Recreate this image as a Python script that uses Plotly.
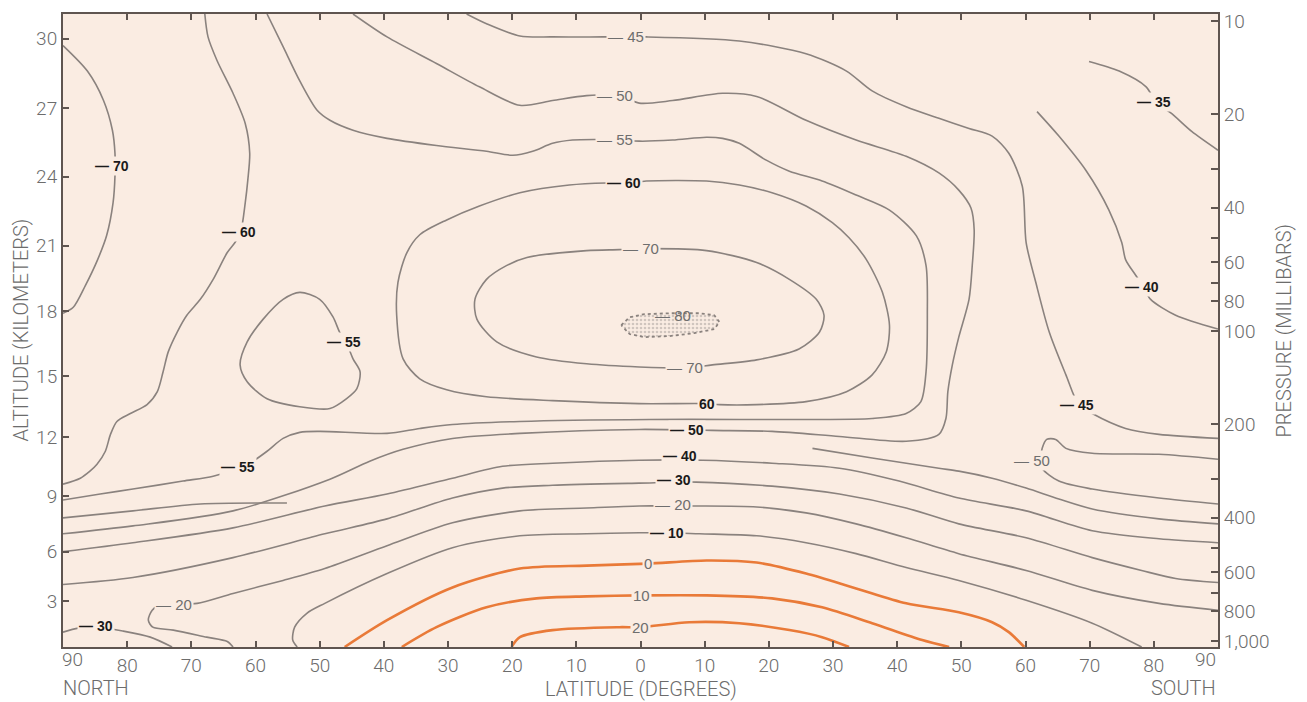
import math
import plotly.graph_objects as go

# ---------------- axis data ----------------
LAT_TICKS = [-80, -70, -60, -50, -40, -30, -20, -10, 0, 10, 20, 30, 40, 50, 60, 70, 80]
ALT_KM = [3, 6, 9, 12, 15, 18, 21, 24, 27, 30]
ALT_MB = [744, 514, 340, 220, 140, 86.2, 53.0, 31.8, 19.1, 11.4]
P_TICKS = [10, 20, 30, 40, 50, 60, 70, 80, 100, 200, 300, 400, 500, 600, 700, 800, 1000]
P_LABELS = ["10", "20", "", "40", "", "60", "", "80", "100", "200", "", "400", "", "600", "", "800", "1,000"]
P_RANGE = [1044.5, 9.49]

# ---------------- isotherms (latitude: north negative, pressure mb) ----------------
M70_NW_LAT = [-90.0, -86.2, -83.7, -82.3, -81.9, -81.9, -82.2, -83.2, -84.6, -86.5, -88.4, -90.0]
M70_NW_P = [12.0, 14.5, 18.0, 22.5, 26.7, 31.6, 38.6, 49.2, 58.8, 71.2, 83.8, 87.6]

M60_NW_LAT = [-67.9, -67.4, -66.0, -63.5, -61.6, -60.9, -61.2, -61.6, -62.3, -63.2, -64.4, -66.6, -68.6,
              -70.7, -72.2, -73.6, -74.4, -75.3, -76.9, -79.5, -81.6, -82.6, -83.4, -84.7, -85.8, -87.3, -90.0]
M60_NW_P = [9.49, 11.25, 13.4, 17.1, 21.4, 26.7, 32.6, 38.6, 47.8, 51.8, 55.8, 68.1, 79.0,
            88.9, 100.7, 116.7, 135.3, 156.8, 172.7, 184.5, 195.6, 215.4, 244.1, 268.8, 282.9, 298.1, 311.6]

M55_LAT = [-58.2, -55.7, -53.1, -50.4, -48.4, -44.8, -39.5, -31.8, -24.0, -19.9,
           -16.8, -13.7, -10.6, -6.4, -3.6, -0.2, 5.0, 10.3, 12.8, 15.4,
           19.6, 23.2, 28.3, 33.6, 38.8, 43.0, 44.5, 44.7, 44.5, 43.7,
           41.4, 36.1, 25.8, 15.4, 1.4, -18.8, -29.3, -34.4, -39.5, -50.0,
           -53.1, -55.7, -58.2, -60.4, -62.4, -66.6, -71.3, -79.1, -84.2, -90.0]
M55_P = [9.49, 12.1, 15.6, 19.4, 20.9, 22.5, 23.9, 25.2, 26.3, 27.1,
         26.3, 24.8, 24.2, 24.1, 24.1, 24.4, 24.2, 23.7, 23.9, 24.8,
         28.1, 30.5, 32.8, 36.4, 40.7, 49.3, 61.5, 88.9, 135.3, 168.8,
         184.5, 191.4, 192.8, 192.8, 192.8, 195.6, 200.1, 206.1, 213.8, 210.6,
         212.2, 221.9, 244.1, 262.8, 274.9, 293.8, 304.6, 323.2, 335.4, 350.5]

M50_LAT = [-44.8, -39.5, -31.8, -25.1, -18.8, -13.7, -8.4, -3.3, -0.2, 5.0,
           12.8, 18.1, 25.8, 33.6, 41.4, 46.5, 49.6, 51.5, 52.0, 51.7,
           51.2, 49.6, 48.6, 47.9, 47.6, 46.5, 41.4, 31.0, 20.5, 11.1,
           -0.2, -18.8, -29.3, -37.0, -42.2, -48.4, -63.5, -79.1, -90.0]
M50_P = [9.49, 11.25, 13.7, 16.3, 18.7, 18.05, 17.4, 17.4, 18.4, 18.05,
         17.1, 17.5, 20.9, 24.2, 27.3, 30.9, 35.1, 40.1, 47.1, 61.5,
         79.0, 104.6, 128.5, 156.8, 191.4, 215.4, 226.7, 218.7, 210.6, 209.1,
         207.6, 213.8, 221.9, 240.6, 262.8, 300.3, 380.0, 424.8, 450.6]

M45_LAT = [-27.1, -24.0, -18.8, -13.7, -5.9, -2.0, 0.9, 15.4, 25.8, 32.1, 36.1, 41.4, 46.5,
           51.2, 54.8, 57.4, 59.5, 60.1, 61.6, 63.7, 66.3, 68.3, 70.4, 75.6, 80.8, 90.0]
M45_P = [9.49, 10.2, 11.17, 11.25, 11.25, 11.25, 11.25, 11.6, 12.75, 14.5, 16.8, 18.9, 20.6,
         22.2, 23.5, 26.7, 34.1, 51.8, 69.6, 100.7, 138.4, 172.7, 184.5, 206.1, 215.4, 221.9]

M40_SE_LAT = [61.8, 65.2, 69.4, 73.0, 75.0, 75.6, 77.2, 78.4, 79.5, 83.4, 90.0]
M40_SE_P = [19.6, 23.5, 30.3, 40.7, 51.8, 58.8, 66.2, 72.3, 79.0, 88.9, 98.5]

M35_LAT = [69.9, 74.6, 78.8, 80.3, 82.8, 85.9, 90.0]
M35_P = [13.5, 14.5, 16.3, 18.2, 19.9, 22.7, 26.1]

M70_LOOP_LAT = [0.6, 10.3, 18.1, 23.2, 27.4, 28.6, 27.9, 24.7, 18.1, 11.2, 7.3, -0.2, -8.4,
                -16.2, -22.4, -25.5, -25.8, -24.0, -20.9, -17.7, -8.4, -3.3, 0.6]
M70_LOOP_P = [54.2, 55.0, 60.1, 68.1, 79.0, 88.9, 100.7, 114.2, 123.8, 128.5, 131.4, 130.5, 127.5,
              121.2, 108.4, 91.5, 79.0, 68.1, 61.5, 57.9, 55.0, 54.6, 54.2]

M60_LOOP_LAT = [-2.0, 0.9, 10.3, 15.4, 20.5, 25.8, 29.9, 32.5, 35.2, 37.7, 38.8, 38.3, 36.1, 32.1,
                25.8, 18.1, 12.3, 10.3, -0.2, -13.7, -24.0, -30.2, -34.4, -37.0, -38.0, -37.8,
                -36.4, -34.4, -30.2, -25.1, -18.8, -11.1, -5.3, -2.0]
M60_LOOP_P = [33.3, 32.8, 32.8, 33.8, 35.8, 39.5, 44.7, 50.0, 58.8, 75.0, 95.7, 116.7, 138.4, 156.8,
              168.8, 172.7, 172.7, 171.4, 171.4, 167.6, 162.8, 154.6, 142.5, 122.9, 88.9, 69.6,
              55.8, 48.9, 43.8, 39.5, 35.8, 33.8, 33.3, 33.3]

M80_LAT = [-3.0, -1.7, 0.6, 4.5, 9.2, 11.5, 12.3, 11.5, 8.4, 4.5, 0.6, -1.7, -3.0]
M80_P = [95.7, 90.2, 88.2, 87.6, 87.6, 88.9, 93.5, 98.5, 101.5, 103.8, 104.6, 102.2, 95.7]

M50_SE_LAT = [90.0, 80.8, 70.4, 66.3, 64.7, 63.3, 62.6, 62.4, 62.6, 65.2, 70.4, 80.8, 90.0]
M50_SE_P = [259.1, 249.7, 247.8, 238.9, 223.5, 223.5, 238.9, 256.6, 276.9, 304.6, 323.2, 345.5, 361.1]

M55_LOOP_LAT = [-53.1, -50.0, -47.9, -46.9, -45.9, -44.8, -43.7, -44.2, -45.8, -48.4, -53.1,
                -58.2, -61.3, -62.4, -61.3, -58.8, -55.7, -53.1]
M55_LOOP_P = [75.0, 79.0, 90.2, 100.7, 108.4, 122.9, 135.3, 153.4, 165.2, 177.8, 175.3,
              165.2, 145.6, 128.5, 108.4, 91.5, 79.0, 75.0]

M50_W_LAT = [-90.0, -79.1, -68.6, -55.1]
M50_W_P = [400.4, 380.0, 361.1, 358.4]

M45_E_LAT = [26.8, 36.1, 46.5, 49.6, 54.8, 60.1, 65.2, 70.4, 80.8, 90.0]
M45_E_P = [238.9, 256.6, 276.9, 282.9, 298.1, 320.9, 347.9, 374.6, 403.3, 418.5]

M40_LAT = [-90.0, -79.1, -63.5, -49.2, -39.5, -29.3, -21.5, -13.7, -0.2, 9.7, 20.5, 31.0, 40.3,
           49.6, 60.1, 70.4, 80.8, 90.0]
M40_P = [514.4, 481.5, 431.1, 366.5, 335.4, 298.1, 272.9, 266.8, 260.9, 260.9, 266.8, 276.9, 304.6,
         345.5, 380.0, 440.5, 467.5, 481.5]

M30_LAT = [-90.0, -79.1, -63.5, -49.2, -39.5, -29.3, -21.5, -13.7, -0.2, 8.7, 20.5, 31.0, 41.4,
           49.6, 60.1, 70.4, 78.1, 83.4, 90.0]
M30_P = [656.5, 623.4, 537.9, 450.6, 403.3, 345.5, 320.9, 314.3, 309.3, 306.9, 316.3, 335.4, 371.9,
         418.5, 464.1, 537.9, 591.7, 627.9, 646.8]

M30_SW_LAT = [-90.0, -87.6, -84.5, -80.6, -76.4, -73.0]
M30_SW_P = [935.3, 908.1, 901.6, 928.3, 970.7, 1044.5]

M20_LAT = [-63.5, -64.4, -67.6, -72.8, -76.0, -76.7, -76.1, -74.9, -72.4, -69.1, -63.5, -55.7,
           -49.2, -39.5, -29.3, -18.8, -8.4, -0.2, 5.3, 8.7, 18.1, 25.8, 33.6, 41.4, 49.6, 60.1,
           70.4, 80.8, 90.0]
M20_P = [1044.5, 1002.4, 970.7, 921.2, 901.6, 855.7, 794.8, 766.6, 760.9, 755.3, 701.6, 637.0,
         583.3, 492.4, 415.4, 380.0, 371.9, 366.5, 366.5, 366.5, 369.2, 385.8, 418.5, 464.1, 522.2,
         591.7, 685.8, 755.3, 794.8]

M10_LAT = [-53.5, -54.2, -53.9, -52.0, -49.2, -39.5, -29.3, -18.8, -8.4, -0.2, 4.5, 9.2, 18.1,
           25.8, 33.6, 41.4, 49.6, 60.1, 70.4, 78.1]
M10_P = [1044.5, 991.9, 901.6, 813.1, 755.3, 605.3, 499.6, 457.4, 450.6, 447.2, 447.2, 450.6, 457.4,
         481.5, 522.2, 579.1, 637.0, 738.3, 875.4, 1044.5]

P0_LAT = [-46.1, -39.5, -29.3, -18.8, -8.4, 1.1, 10.3, 18.1, 25.8, 33.6, 41.4, 49.6, 54.8, 57.4, 59.8]
P0_P = [1044.5, 855.7, 671.2, 583.3, 570.7, 562.2, 549.6, 558.0, 605.3, 676.0, 755.3, 807.0, 868.8,
        935.3, 1044.5]

P10_LAT = [-37.2, -31.8, -24.0, -16.2, -8.4, 0.0, 10.3, 20.5, 28.3, 36.1, 43.9, 48.1]
P10_P = [1044.5, 901.6, 777.9, 727.8, 717.3, 712.1, 712.1, 727.8, 777.9, 875.4, 991.9, 1044.5]

P20_LAT = [-20.1, -18.8, -13.7, -3.3, 0.0, 7.6, 15.4, 23.2, 28.3, 32.5]
P20_P = [1044.5, 970.7, 921.2, 901.6, 901.6, 868.8, 875.4, 921.2, 970.7, 1044.5]

# ---------------- contour labels ----------------
LABEL_TEXT = ["— 70", "— 60", "— 55", "— 55", "— 45", "— 50", "— 55", "— 60", "— 70", "— 80",
              "— 70", "60", "— 50", "— 40", "— 30", "— 20", "— 10", "0", "10", "20",
              "— 20", "— 30", "— 35", "— 40", "— 45", "— 50"]
LABEL_LAT = [-82.3, -62.6, -46.2, -62.7, -2.3, -3.9, -3.9, -2.5, 0.0, 5.0,
             7.0, 10.3, 7.3, 6.2, 5.2, 5.0, 4.2, 1.1, 0.2, 0.0,
             -72.7, -84.8, 80.0, 78.1, 68.0, 61.0]
LABEL_P = [29.4, 47.8, 108.4, 274.9, 11.25, 17.4, 24.1, 33.3, 54.2, 88.9,
           131.4, 171.4, 209.1, 253.5, 302.4, 363.8, 447.2, 562.2, 712.1, 901.6,
           760.9, 895.0, 18.2, 72.3, 172.7, 260.9]
LABEL_DARK = [True, True, True, True, False, False, False, True, False, False,
              False, True, True, True, True, False, True, False, False, False,
              False, True, True, True, True, False]

# ---------------- styles ----------------
BG = "rgb(250,236,226)"
GRAY = "rgb(138,130,126)"
ORANGE = "rgb(233,122,56)"
FRAME = "rgb(95,85,80)"
TXT = "#6c6c6c"
TICK_FONT = dict(family="Roboto, 'Liberation Sans', sans-serif", size=19, color=TXT, weight=300)
TITLE_FONT = dict(family="Roboto, 'Liberation Sans', sans-serif", size=20, color=TXT, weight=300)

gray_lines = [
    (M70_NW_LAT, M70_NW_P), (M60_NW_LAT, M60_NW_P), (M55_LAT, M55_P), (M50_LAT, M50_P),
    (M45_LAT, M45_P), (M40_SE_LAT, M40_SE_P), (M35_LAT, M35_P), (M70_LOOP_LAT, M70_LOOP_P),
    (M60_LOOP_LAT, M60_LOOP_P), (M50_SE_LAT, M50_SE_P), (M55_LOOP_LAT, M55_LOOP_P),
    (M50_W_LAT, M50_W_P), (M45_E_LAT, M45_E_P), (M40_LAT, M40_P), (M30_LAT, M30_P),
    (M30_SW_LAT, M30_SW_P), (M20_LAT, M20_P), (M10_LAT, M10_P),
]
orange_lines = [(P0_LAT, P0_P), (P10_LAT, P10_P), (P20_LAT, P20_P)]

fig = go.Figure()

fig.add_trace(go.Scatter(
    x=M80_LAT, y=M80_P, mode="lines", fill="toself",
    fillpattern=dict(shape=".", fgcolor="rgb(165,158,154)", bgcolor=BG, size=4, solidity=0.35),
    line=dict(color=GRAY, width=1.8, dash="dot"), hoverinfo="skip", showlegend=False))

for lat, p in gray_lines:
    fig.add_trace(go.Scatter(x=lat, y=p, mode="lines",
                             line=dict(color=GRAY, width=1.6, shape="spline", smoothing=0.8),
                             hoverinfo="skip", showlegend=False))
for lat, p in orange_lines:
    fig.add_trace(go.Scatter(x=lat, y=p, mode="lines",
                             line=dict(color=ORANGE, width=2.6, shape="spline", smoothing=0.8),
                             hoverinfo="skip", showlegend=False))

# dummy trace so the right pressure axis is drawn
fig.add_trace(go.Scatter(x=[0], y=[100], yaxis="y2", mode="markers",
                         marker=dict(opacity=0), hoverinfo="skip", showlegend=False))

annotations = []
for txt, la, pr, dark in zip(LABEL_TEXT, LABEL_LAT, LABEL_P, LABEL_DARK):
    annotations.append(dict(
        x=la, y=math.log10(pr), xref="x", yref="y", text=txt, showarrow=False,
        font=dict(family="'Liberation Sans', Arial, sans-serif",
                  size=14 if dark else 15,
                  color="#1a1a1a" if dark else "#6e6e6e",
                  weight="bold" if dark else "normal"),
        bgcolor=None if txt == "— 80" else BG, borderpad=1))

# end tick labels and titles
annotations += [
    dict(x=0, y=-0.0204, xref="paper", yref="paper", text="90", showarrow=False,
         xanchor="left", yanchor="middle", xshift=-3, font=TICK_FONT),
    dict(x=1, y=-0.0204, xref="paper", yref="paper", text="90", showarrow=False,
         xanchor="right", yanchor="middle", font=TICK_FONT),
    dict(x=0, y=-0.0644, xref="paper", yref="paper", text="NORTH", showarrow=False,
         xanchor="left", yanchor="middle", xshift=-2, font=TITLE_FONT),
    dict(x=1, y=-0.0644, xref="paper", yref="paper", text="SOUTH", showarrow=False,
         xanchor="right", yanchor="middle", font=TITLE_FONT),
    dict(x=0.5, y=-0.0659, xref="paper", yref="paper", text="LATITUDE (DEGREES)", showarrow=False,
         xanchor="center", yanchor="middle", font=TITLE_FONT),
    dict(x=-0.0372, y=0.5, xref="paper", yref="paper", text="ALTITUDE (KILOMETERS)", showarrow=False,
         textangle=-90, xanchor="center", yanchor="middle", font=TITLE_FONT),
    dict(x=1.0571, y=0.5, xref="paper", yref="paper", text="PRESSURE (MILLIBARS)", showarrow=False,
         textangle=-90, xanchor="center", yanchor="middle", font=TITLE_FONT),
]

yr = [math.log10(P_RANGE[0]), math.log10(P_RANGE[1])]

# the page body has an 8px margin; size the figure so the plot frame lands where the reference has it
fig.update_layout(
    width=1299, height=694, autosize=False,
    margin=dict(l=55, r=89, t=2, b=55),
    paper_bgcolor="white", plot_bgcolor=BG, showlegend=False,
    annotations=annotations,
    xaxis=dict(range=[-90, 90], tickvals=LAT_TICKS, ticktext=[str(abs(v)) for v in LAT_TICKS],
               ticks="inside", ticklen=6, tickwidth=1.5, tickcolor=FRAME,
               showline=True, linecolor=FRAME, linewidth=1.5, mirror="ticks",
               showgrid=False, zeroline=False, tickfont=TICK_FONT),
    yaxis=dict(type="log", range=yr, tickvals=ALT_MB, ticktext=[str(v) for v in ALT_KM],
               ticks="inside", ticklen=6, tickwidth=2, tickcolor=FRAME,
               showline=True, linecolor=FRAME, linewidth=2, mirror=False,
               showgrid=False, zeroline=False, tickfont=TICK_FONT, ticklabeloverflow="allow"),
    yaxis2=dict(type="log", range=yr, overlaying="y", side="right", anchor="x",
                tickvals=P_TICKS, ticktext=P_LABELS,
                ticks="inside", ticklen=7, tickwidth=2, tickcolor=FRAME,
                showline=True, linecolor=FRAME, linewidth=2,
                showgrid=False, zeroline=False, tickfont=TICK_FONT, ticklabeloverflow="allow"),
)

fig.write_html("out.html")
